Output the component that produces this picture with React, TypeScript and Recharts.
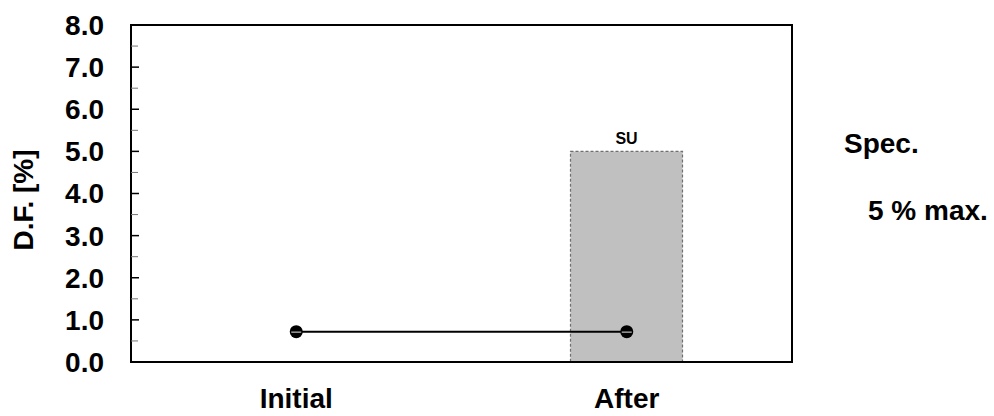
import React from 'react';
import {
    ComposedChart,
    Bar,
    Line,
    XAxis,
    YAxis,
    ReferenceArea,
    LabelList,
} from 'recharts';

const categories = ['Initial', 'After'];
const specValues = [null, 5];
const specLabels = ['', 'SU'];
const dfValues = [0.72, 0.72];
const yTicks = [0, 0.5, 1, 1.5, 2, 2.5, 3, 3.5, 4, 4.5, 5, 5.5, 6, 6.5, 7, 7.5, 8];

const FONT = "'Liberation Sans', Arial, sans-serif";

const chartData = categories.map((category, i) => ({
    category,
    spec: specValues[i],
    specLabel: specLabels[i],
    df: dfValues[i],
}));

// y ticks drawn inside the frame, labels only on whole numbers
function YTick(props: any) {
    const { x, y, payload } = props;
    const v = payload.value as number;
    const major = Number.isInteger(v);
    const axisX = x + 27;
    return (
        <g>
            <line
                x1={axisX}
                x2={axisX + (major ? 8 : 7)}
                y1={y}
                y2={y}
                stroke={major ? '#000' : '#777'}
                strokeWidth={major ? 1.5 : 1}
            />
            {major && (
                <text
                    x={x}
                    y={y}
                    dy="0.355em"
                    textAnchor="end"
                    fontFamily={FONT}
                    fontWeight="bold"
                    fontSize={28}
                    fill="#000"
                >
                    {v.toFixed(1)}
                </text>
            )}
        </g>
    );
}

function Marker(props: any) {
    const { cx, cy, index } = props;
    if (cx == null || cy == null) return <g key={index} />;
    return (
        <g key={index}>
            <circle cx={cx} cy={cy} r={6.5} fill="#000" />
            <line x1={cx - 5} x2={cx + 5} y1={cy + 0.5} y2={cy + 0.5} stroke="#9a9a9a" strokeWidth={1.5} />
        </g>
    );
}

export default function App() {
    return (
        <div style={{ position: 'absolute', left: 0, top: 0, width: 994, height: 416, background: '#fff' }}>
            <ComposedChart
                width={994}
                height={416}
                data={chartData}
                margin={{ top: 25, right: 202, bottom: 0, left: 0 }}
            >
                <XAxis
                    dataKey="category"
                    height={54}
                    axisLine={{ stroke: '#000', strokeWidth: 2 }}
                    tickLine={false}
                    tickSize={0}
                    tickMargin={26}
                    tick={{ fill: '#000', fontFamily: FONT, fontWeight: 'bold', fontSize: 28 }}
                />
                <YAxis
                    width={131}
                    domain={[0, 8]}
                    ticks={yTicks}
                    interval={0}
                    axisLine={{ stroke: '#000', strokeWidth: 2 }}
                    tickLine={false}
                    tickSize={0}
                    tickMargin={27}
                    tick={<YTick />}
                />
                <Bar
                    dataKey="spec"
                    barSize={112}
                    fill="#c0c0c0"
                    stroke="#6f6f6f"
                    strokeWidth={1.2}
                    strokeDasharray="3 2"
                    isAnimationActive={false}
                >
                    <LabelList
                        dataKey="specLabel"
                        position="top"
                        offset={7}
                        fill="#000"
                        fontFamily={FONT}
                        fontWeight="bold"
                        fontSize={16}
                    />
                </Bar>
                <ReferenceArea y1={0} y2={8} fill="none" stroke="#000" strokeWidth={2} ifOverflow="visible" />
                <Line
                    dataKey="df"
                    stroke="#000"
                    strokeWidth={2}
                    dot={Marker}
                    activeDot={false}
                    isAnimationActive={false}
                />
            </ComposedChart>
            <svg
                width={994}
                height={416}
                style={{ position: 'absolute', left: 0, top: 0, pointerEvents: 'none' }}
            >
                <text
                    transform="translate(33,200) rotate(-90)"
                    textAnchor="middle"
                    fontFamily={FONT}
                    fontWeight="bold"
                    fontSize={28}
                    fill="#000"
                >
                    D.F. [%]
                </text>
                <text x={844} y={153} fontFamily={FONT} fontWeight="bold" fontSize={28} fill="#000">
                    Spec.
                </text>
                <text x={868} y={220} fontFamily={FONT} fontWeight="bold" fontSize={28} fill="#000">
                    5 % max.
                </text>
            </svg>
        </div>
    );
}
